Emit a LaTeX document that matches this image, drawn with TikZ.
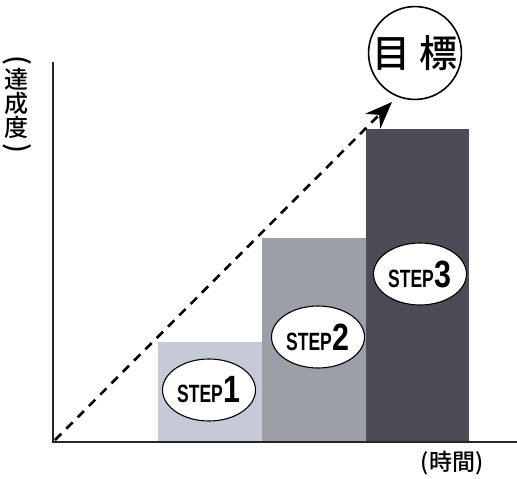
\documentclass[tikz,border=0pt]{standalone}
\usepackage{fontspec}
\usepackage{graphicx}
\setmainfont{Liberation Sans}
\newfontfamily\jp{Noto Sans CJK JP Medium}
\usetikzlibrary{arrows.meta,shapes.geometric}
\definecolor{barA}{HTML}{C6C9D7}
\definecolor{barB}{HTML}{9C9EA8}
\definecolor{barC}{HTML}{4B4C56}
\tikzset{
  axis/.style={line width=1.2pt, draw=black!85},
  stepel/.style={ellipse, draw=black, line width=1.1pt, fill=white, minimum width=93pt, minimum height=62pt, inner sep=0pt},
  goal/.style={circle, draw=black, line width=1.6pt, fill=white, minimum size=92pt, inner sep=0pt},
  dasharrow/.style={line width=2.6pt, dash pattern=on 9pt off 7pt, -{Stealth[length=27pt,width=21pt]}},
}
\newcommand{\steptext}[1]{\bfseries\scalebox{0.7}[1]{\fontsize{25}{25}\selectfont STEP}\hspace{1pt}{\fontsize{38}{38}\selectfont\scalebox{0.8}[1]{#1}}}
\begin{document}
\begin{tikzpicture}[x=1pt,y=-1pt]
\useasboundingbox (0,0) rectangle (517,479);
% bars
\fill[barA] (158,342) rectangle (262,442);
\fill[barB] (262,238) rectangle (366,442);
\fill[barC] (366,129) rectangle (469,442);
% axes
\coordinate (O) at (53,442);
\coordinate (ytop) at (53,62);
\coordinate (xend) at (517,442);
\draw[axis] (ytop) -- (O) -- (xend);
% goal
\node[goal] (g) at (415,53) {\jp\fontsize{38}{38}\selectfont 目\hspace{10pt}標};
% dashed arrow
\coordinate (s) at (55,440);
\coordinate (t) at (392,102);
\draw[dasharrow] (s) -- (t);
% step ellipses
\node[stepel] (s1) at (209,390) {\steptext{1}};
\node[stepel] (s2) at (318,337) {\steptext{2}};
\node[stepel] (s3) at (420,274) {\steptext{3}};
% labels
\node[align=center, inner sep=0pt, font=\jp\fontsize{24}{24}\selectfont] (ylab) at (17,106)
  {\rotatebox[origin=c]{-90}{\fontsize{28}{28}\selectfont(}\\[-4pt]達\\成\\度\\[-4pt]\rotatebox[origin=c]{-90}{\fontsize{28}{28}\selectfont)}};
\node[inner sep=0pt, font=\jp\fontsize{23}{23}\selectfont] (xlab) at (452,463) {(時間)};
\end{tikzpicture}
\end{document}
